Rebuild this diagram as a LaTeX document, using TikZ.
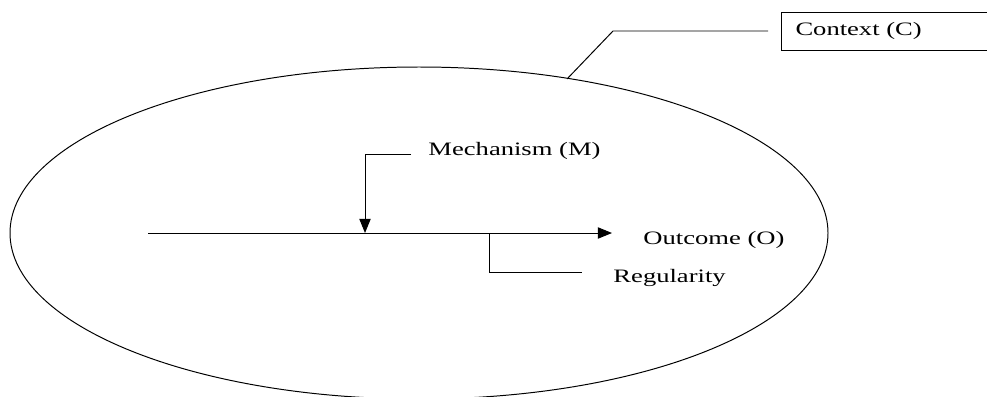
\documentclass[tikz,border=0pt]{standalone}
\usepackage{graphicx}
\usepackage{fontspec}
\setmainfont{Liberation Serif}
\usetikzlibrary{positioning,arrows.meta}

% the labels are set wide, as in the drawing
\newcommand{\widetext}[1]{\scalebox{1.4}[1]{#1}}

\begin{document}
\begin{tikzpicture}[x=0.025cm,y=-0.025cm,line width=0.7pt,
	lbl/.style={anchor=west,inner sep=0pt,font=\fontsize{13.5}{15}\selectfont},
	tip/.style={-{Triangle[length=10pt,width=8pt]}}]
	\useasboundingbox (0,0) rectangle (987,396);
	\clip (0,0) rectangle (987,396);
	%
	\draw (419,233) ellipse [x radius=409, y radius=166];
	%
	\node[lbl] (mech) at (428,151) {\widetext{Mechanism (M)}};
	\node[lbl] (out) at (643,240) {\widetext{Outcome (O)}};
	\node[lbl] (reg) at (613,278) {\widetext{Regularity}};
	\node[draw,anchor=north west,inner sep=0pt,minimum width=5.4cm,minimum height=0.95cm] (ctxbox) at (781,12) {};
	\node[lbl] (ctx) at (795,31) {\widetext{Context (C)}};
	%
	\coordinate (start) at (148,233);
	\coordinate (end) at (612,233);
	\coordinate (hit) at (365,233);
	\coordinate (split) at (489,233);
	\coordinate (rim) at (567,79);
	%
	\draw[tip] (start) -- (end);
	\draw[tip] ([xshift=-17*0.025cm]mech.west |- 0,154) -| (hit);
	\draw (split) |- ([xshift=-31*0.025cm]reg.west |- 0,272);
	\draw (rim) -- (613,31) -- ([xshift=-13*0.025cm]ctxbox.west |- 0,31);
\end{tikzpicture}
\end{document}
